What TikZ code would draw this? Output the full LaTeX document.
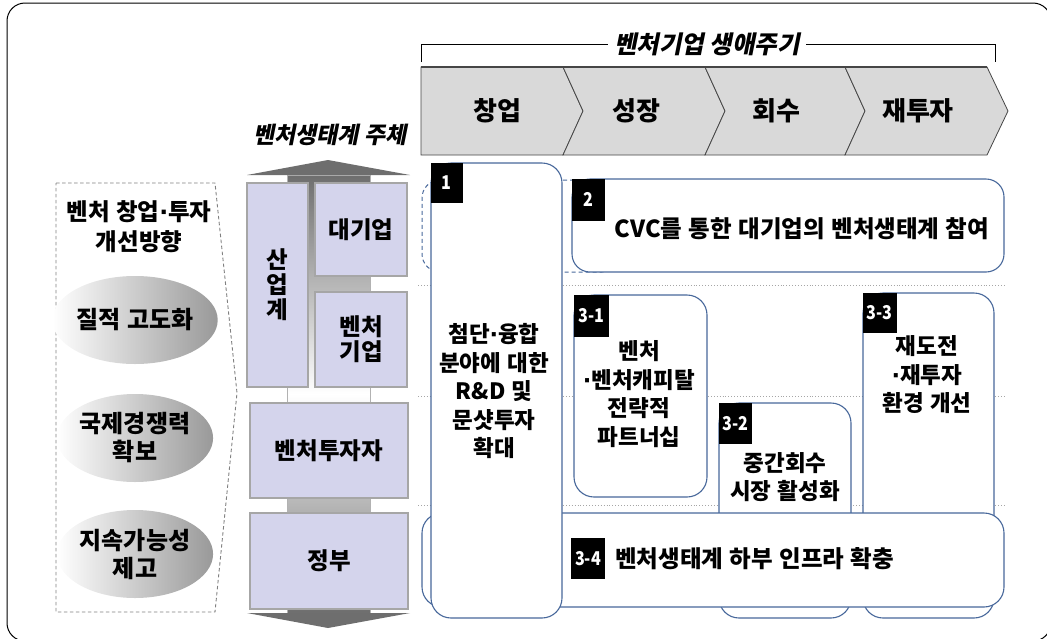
\documentclass[tikz,border=0pt]{standalone}
\usepackage{fontspec}
\setmainfont{Noto Sans CJK KR}[WordSpace=1.2]
\newfontfamily\krsl{Noto Sans CJK KR}[FakeSlant=0.2]
\newfontfamily\krnum{Noto Sans CJK KR}[FakeStretch=0.85]
\newfontfamily\dotfont{DejaVu Sans}
\newcommand{\mdot}{{\dotfont\bfseries ·}}
\usetikzlibrary{shapes.geometric}
\definecolor{boxline}{RGB}{72,104,155}
\definecolor{lav}{RGB}{212,212,236}
\definecolor{lavline}{RGB}{166,166,166}
\definecolor{chev}{RGB}{217,217,217}
\definecolor{chevline}{RGB}{70,70,70}
\definecolor{arrowgray}{RGB}{110,110,110}
\tikzset{
  kr/.style={font=\bfseries\fontsize{#1}{#1}\selectfont},
  txt/.style={align=center, inner sep=0pt, font=\bfseries\fontsize{22.5}{28.5}\selectfont},
  lbox/.style={draw=lavline, line width=1.3pt, fill=lav, inner sep=0pt, align=center,
               font=\bfseries\fontsize{23.5}{25}\selectfont},
  rbox/.style={draw=boxline, line width=1.1pt, fill=white, rounded corners=20pt, inner sep=0pt},
  tag/.style={fill=black, text=white, inner sep=0pt, anchor=north west,
              font=\krnum\bfseries\fontsize{19}{19}\selectfont},
  ell/.style={ellipse, minimum width=144pt, minimum height=88pt, left color=white,
              right color=black!40, inner sep=0pt, align=center,
              font=\bfseries\fontsize{24}{28}\selectfont},
  chevshape/.style={fill=chev, draw=chevline, line width=0.8pt, line join=miter},
  sep/.style={draw=black!35, dotted, line width=0.9pt},
}
\begin{document}
\begin{tikzpicture}[x=1pt,y=-1pt]
\useasboundingbox (0,0) rectangle (1047,638);
% outer frame
\draw[line width=1pt, rounded corners=18pt] (7,3) rectangle (1051,641);

% ---- life cycle title and bracket
\node[font=\krsl\bfseries\fontsize{24.5}{24.5}\selectfont, inner sep=6pt] (title) at (707,44) {벤처기업 생애주기};
\coordinate (brL) at (421,62);
\coordinate (brR) at (995,62);
\draw[line width=0.8pt] (brL) |- (title.west);
\draw[line width=0.8pt] (title.east) -| (brR);

% ---- chevrons
\draw[chevshape] (421,67) -- (563,67) -- (583,111) -- (563,155) -- (421,155) -- cycle;
\draw[chevshape] (563,67) -- (705,67) -- (725,111) -- (705,155) -- (563,155) -- (583,111) -- cycle;
\draw[chevshape] (705,67) -- (845,67) -- (865,111) -- (845,155) -- (705,155) -- (725,111) -- cycle;
\draw[chevshape] (845,67) -- (987,67) -- (1008,111) -- (987,155) -- (845,155) -- (865,111) -- cycle;
\draw[chevline, line width=1.6pt] (421,67) -- (987,67);
\node[kr=26] (c1) at (497,111) {창업};
\node[kr=26] (c2) at (636,111) {성장};
\node[kr=26] (c3) at (776,111) {회수};
\node[kr=26] (c4) at (918,111) {재투자};

% ---- subjects title
\node[font=\krsl\bfseries\fontsize{23}{23}\selectfont, inner sep=0pt] (subj) at (330,135) {벤처생태계 주체};

% ---- left dashed panel
\draw[draw=black!50, dash pattern=on 3.5pt off 2.5pt, line width=0.9pt]
  (56,183) -- (215,183) -- (237,393) -- (215,612) -- (56,612) -- cycle;
\node[align=center, inner sep=0pt, font=\bfseries\fontsize{23.5}{30}\selectfont] (dir) at (139,227) {벤처 창업\mdot 투자\\개선방향};
\node[ell] (e1) at (135,320) {질적 고도화};
\node[ell] (e2) at (135,438) {국제경쟁력\\확보};
\node[ell] (e3) at (135,554) {지속가능성\\제고};

% ---- double arrow shaft and heads
\shade[top color=arrowgray, bottom color=arrowgray, middle color=white, draw=black!30, line width=0.6pt]
  (287,175) rectangle (370,613);
\fill[arrowgray] (247,175) -- (328,160) -- (410,175) -- cycle;
\fill[arrowgray] (247,613) -- (328,628) -- (410,613) -- cycle;

% ---- subject boxes
\node[lbox, minimum width=61pt, minimum height=204pt] (san) at (277.5,285) {산\\업\\계};
\node[lbox, minimum width=92pt, minimum height=93pt] (dae) at (361,229.5) {대기업};
\node[lbox, minimum width=92pt, minimum height=95pt] (ven) at (361,339.5) {벤처\\기업};
\node[lbox, minimum width=158pt, minimum height=95pt] (vtz) at (329,450.5) {벤처투자자};
\node[lbox, minimum width=158pt, minimum height=96pt] (gov) at (329,561) {정부};

% ---- separators
\draw[sep] (418,285) -- (1004,285);
\draw[sep] (418,396) -- (1004,396);
\draw[sep] (418,505) -- (1004,505);

% ---- dashed extension of box 2
\node[draw=boxline, line width=1pt, dash pattern=on 4pt off 3pt, rounded corners=18pt,
      minimum width=198pt, minimum height=92pt, inner sep=0pt] (b2ext) at (521,226) {};

% ---- boxes 3-2 and 3-3 (behind 3-4)
\node[rbox, minimum width=132pt, minimum height=215pt] (b32) at (785,510.5) {};
\node[tag, minimum width=33pt, minimum height=41pt] (t32) at (b32.north west) {3-2};
\node[txt] (x32) at (785,477) {중간회수\\시장 활성화};

\node[rbox, minimum width=131pt, minimum height=325pt] (b33) at (928.5,455.5) {};
\node[tag, minimum width=34pt, minimum height=40pt] (t33) at (b33.north west) {3-3};
\node[txt] (x33) at (927,375) {재도전\\\mdot 재투자\\환경 개선};

% ---- box 3-1
\node[rbox, minimum width=133pt, minimum height=202pt] (b31) at (640.5,396) {};
\node[tag, minimum width=35pt, minimum height=42pt] (t31) at (b31.north west) {3-1};
\node[txt] (x31) at (639,394) {벤처\\\mdot 벤처캐피탈\\전략적\\파트너십};

% ---- box 3-4
\node[rbox, minimum width=582pt, minimum height=94pt] (b34) at (713,560) {};
\node[tag, anchor=center, minimum width=34pt, minimum height=41pt] (t34) at (588,558.5) {3-4};
\node[kr=23.5, anchor=west, inner sep=0pt] (x34) at (615,559) {벤처생태계 하부 인프라 확충};

% ---- box 1
\node[rbox, minimum width=131pt, minimum height=455pt] (b1) at (496.5,390.5) {};
\node[tag, minimum width=32pt, minimum height=40pt] (t1) at (b1.north west) {1};
\node[txt] (x1) at (494,391) {첨단\mdot 융합\\분야에 대한\\R\&D 및\\문샷투자\\확대};

% ---- box 2
\node[rbox, rounded corners=18pt, minimum width=432pt, minimum height=93pt] (b2) at (788,225.5) {};
\node[tag, minimum width=33pt, minimum height=42pt] (t2) at (b2.north west) {2};
\node[kr=23.5, inner sep=0pt] (x2) at (802,229) {CVC를 통한 대기업의 벤처생태계 참여};
\end{tikzpicture}
\end{document}
